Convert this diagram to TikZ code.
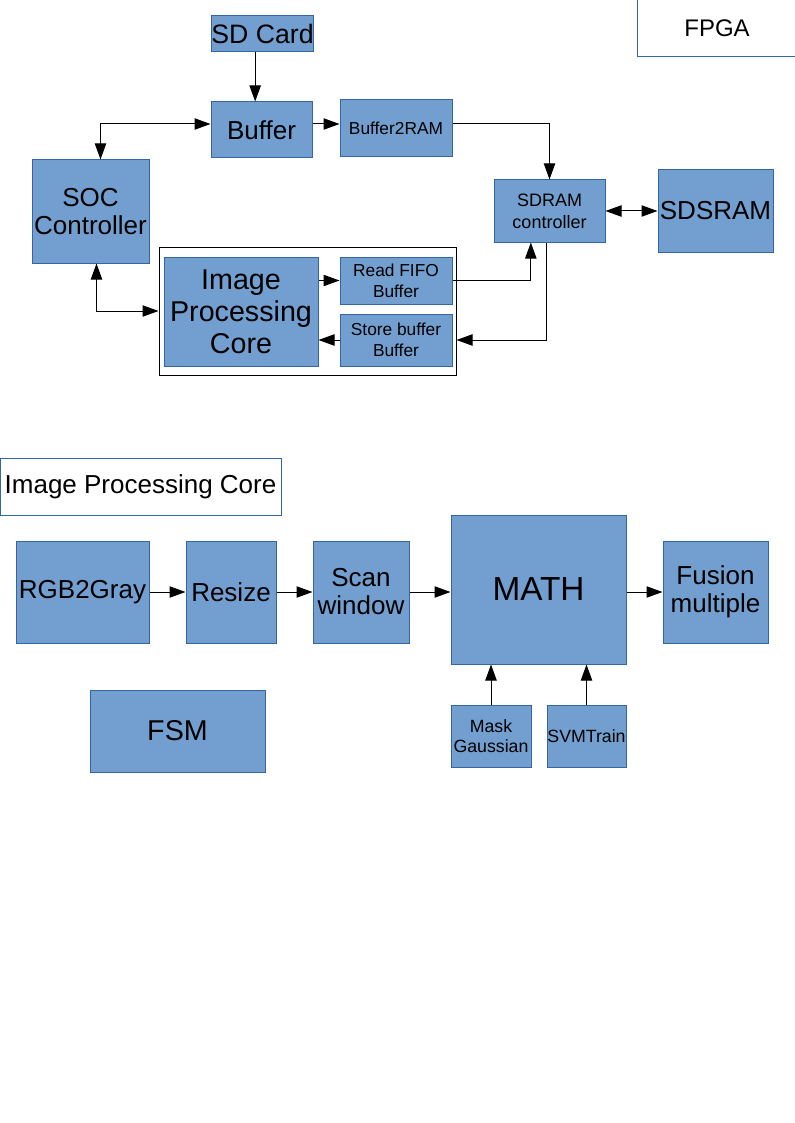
\documentclass[tikz,border=0pt]{standalone}
\usepackage{fontspec}
\setmainfont{Liberation Sans}
\usetikzlibrary{arrows.meta}
\definecolor{boxfill}{HTML}{729FCF}
\definecolor{boxline}{HTML}{3465A4}

\begin{document}
\begin{tikzpicture}[x=0.75pt,y=-0.75pt,line width=0.75pt,
	blk/.style={rectangle, draw=boxline, fill=boxfill, inner sep=0pt, align=center},
	lbl/.style={rectangle, draw=boxline, fill=white, inner sep=0pt, align=center},
	txtL/.style={font=\fontsize{19.5}{21}\selectfont},
	txtS/.style={font=\fontsize{13}{15.5}\selectfont},
	>={Triangle[length=12pt,width=8.5pt]}]
	\useasboundingbox (0,0) rectangle (794,1123);
	% FPGA part
	\node (fpga) at (717,28.5)	[lbl, minimum width=120pt, minimum height=42.75pt, font=\fontsize{18}{20}\selectfont]	{FPGA};
	\node (sdcard) at (262.5,34)	[blk, minimum width=75.75pt, minimum height=27pt, font=\fontsize{20}{22}\selectfont]	{SD Card};
	\node (buffer) at (261.5,130)	[blk, txtL, minimum width=75.75pt, minimum height=42pt]	{Buffer};
	\node (buftoram) at (396,128.5)	[blk, txtS, minimum width=84pt, minimum height=42.75pt]	{Buffer2RAM};
	\node (soc) at (90.5,211.5)	[blk, txtL, minimum width=87.75pt, minimum height=77.25pt]	{SOC\\Controller};
	\node (sdramctl) at (549.5,211)	[blk, font=\fontsize{13.5}{16.5}\selectfont, minimum width=83.25pt, minimum height=46.5pt]	{SDRAM\\controller};
	\node (sdsram) at (715.5,211)	[blk, txtL, minimum width=86.25pt, minimum height=61.5pt]	{SDSRAM};
	\node (ipframe) at (307.5,311)	[draw=black, minimum width=222.75pt, minimum height=96pt, inner sep=0pt]	{};
	\node (ipcore) at (241,311.5)	[blk, font=\fontsize{21.5}{24}\selectfont, minimum width=115.5pt, minimum height=81.75pt]	{Image\\Processing\\Core};
	\node (readfifo) at (396,280.5)	[blk, txtS, minimum width=84pt, minimum height=35.25pt]	{Read FIFO\\Buffer};
	\node (storebuf) at (396,340)	[blk, txtS, minimum width=84pt, minimum height=39pt]	{Store buffer\\Buffer};
	\draw[->] ([xshift=-5.5pt]sdcard.south) -- ([xshift=-5.5pt]sdcard.south |- buffer.north);
	\draw[<->] ([xshift=7.5pt]soc.north) |- ([yshift=4.5pt]buffer.west);
	\draw[->] ([yshift=4.5pt]buffer.east) -- ([yshift=4.5pt]buffer.east -| buftoram.west);
	\draw[->] ([yshift=3.4pt]buftoram.east) -| (sdramctl.north);
	\draw[<->] (sdramctl) -- (sdsram);
	\draw[->] (readfifo.east) -| ([xshift=-14pt]sdramctl.south);
	\draw[->] ([xshift=-2pt]sdramctl.south) |- (ipframe.east |- storebuf);
	\draw[->] (ipcore.east |- readfifo) -- (readfifo.west);
	\draw[->] (storebuf.west) -- (storebuf.west -| ipcore.east);
	\draw[<->] ([xshift=4.5pt]soc.south) |- (ipframe.west);
	% image processing core part
	\node (iptitle) at (140.5,486.5)	[lbl, txtL, minimum width=210.75pt, minimum height=42.75pt]	{Image Processing Core};
	\node (rgb) at (82.5,592)	[blk, txtL, minimum width=99.75pt, minimum height=76.5pt]	{RGB2Gray};
	\node (resize) at (231,592)	[blk, txtL, minimum width=67.5pt, minimum height=76.5pt]	{Resize};
	\node (scan) at (361,592)	[blk, txtL, minimum width=72pt, minimum height=76.5pt]	{Scan\\window};
	\node (math) at (538.5,589.5)	[blk, font=\fontsize{25}{28}\selectfont, minimum width=131.25pt, minimum height=111.75pt]	{MATH};
	\node (fusion) at (715.5,592)	[blk, txtL, minimum width=78.75pt, minimum height=76.5pt]	{Fusion\\multiple};
	\node (fsm) at (177.5,731)	[blk, font=\fontsize{21.5}{24}\selectfont, minimum width=131.25pt, minimum height=61.5pt]	{FSM};
	\node (mask) at (491,736)	[blk, font=\fontsize{13.3}{15}\selectfont, minimum width=60pt, minimum height=46.5pt]	{Mask\\Gaussian};
	\node (svm) at (586.5,736)	[blk, font=\fontsize{13.3}{15}\selectfont, minimum width=59.25pt, minimum height=46.5pt]	{SVMTrain};
	\draw[->] (rgb) -- (resize);
	\draw[->] (resize) -- (scan);
	\draw[->] (scan.east) -- (scan.east -| math.west);
	\draw[->] (math.east |- fusion.west) -- (fusion.west);
	\draw[->] (mask.north) -- (mask.north |- math.south);
	\draw[->] (svm.north) -- (svm.north |- math.south);
\end{tikzpicture}
\end{document}
